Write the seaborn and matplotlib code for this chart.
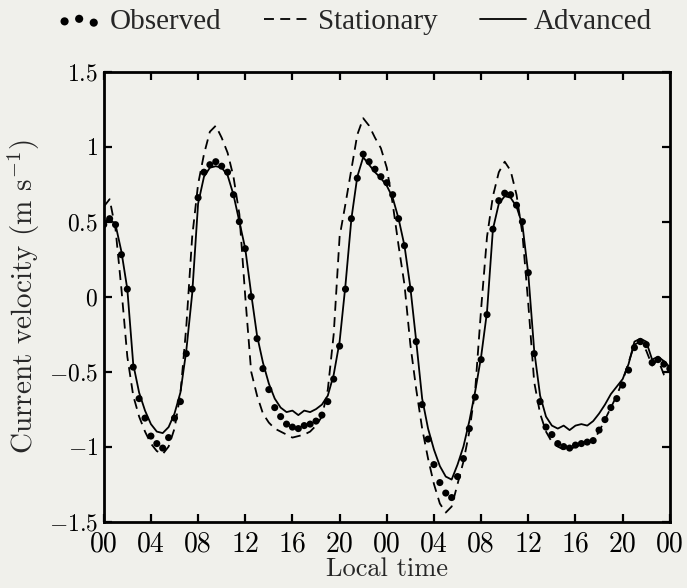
import matplotlib
matplotlib.use("Agg")
import matplotlib.pyplot as plt
import seaborn as sns
import pandas as pd

# ---------------- data ----------------
hours = [0.0, 0.5, 1.0, 1.5, 2.0, 2.5, 3.0, 3.5, 4.0, 4.5, 5.0, 5.5, 6.0, 6.5, 7.0, 7.5,
         8.0, 8.5, 9.0, 9.5, 10.0, 10.5, 11.0, 11.5, 12.0, 12.5, 13.0, 13.5, 14.0, 14.5,
         15.0, 15.5, 16.0, 16.5, 17.0, 17.5, 18.0, 18.5, 19.0, 19.5, 20.0, 20.5, 21.0,
         21.5, 22.0, 22.5, 23.0, 23.5, 24.0, 24.5, 25.0, 25.5, 26.0, 26.5, 27.0, 27.5,
         28.0, 28.5, 29.0, 29.5, 30.0, 30.5, 31.0, 31.5, 32.0, 32.5, 33.0, 33.5, 34.0,
         34.5, 35.0, 35.5, 36.0, 36.5, 37.0, 37.5, 38.0, 38.5, 39.0, 39.5, 40.0, 40.5,
         41.0, 41.5, 42.0, 42.5, 43.0, 43.5, 44.0, 44.5, 45.0, 45.5, 46.0, 46.5, 47.0,
         47.5, 48.0]

observed = [0.48, 0.52, 0.48, 0.28, 0.05, -0.47, -0.68, -0.81, -0.93, -0.98, -1.01, -0.94,
            -0.81, -0.70, -0.38, 0.05, 0.66, 0.83, 0.88, 0.90, 0.87, 0.83, 0.68, 0.50,
            0.32, 0.00, -0.28, -0.48, -0.62, -0.74, -0.80, -0.85, -0.87, -0.88, -0.86,
            -0.85, -0.83, -0.79, -0.70, -0.55, -0.33, 0.05, 0.52, 0.79, 0.95, 0.90, 0.85,
            0.80, 0.76, 0.68, 0.52, 0.34, 0.05, -0.30, -0.72, -0.95, -1.12, -1.24, -1.31,
            -1.34, -1.20, -1.08, -0.88, -0.67, -0.42, -0.12, 0.45, 0.64, 0.69, 0.68, 0.61,
            0.50, 0.16, -0.38, -0.70, -0.87, -0.92, -0.98, -1.00, -1.01, -0.99, -0.98,
            -0.97, -0.96, -0.89, -0.82, -0.74, -0.68, -0.59, -0.49, -0.34, -0.30, -0.32,
            -0.44, -0.42, -0.45, -0.48]

advanced = [0.50, 0.52, 0.48, 0.30, 0.05, -0.45, -0.64, -0.76, -0.85, -0.90, -0.91, -0.87,
            -0.78, -0.64, -0.36, 0.02, 0.62, 0.80, 0.86, 0.87, 0.86, 0.81, 0.68, 0.50,
            0.32, 0.02, -0.26, -0.44, -0.58, -0.68, -0.74, -0.77, -0.76, -0.79, -0.76,
            -0.77, -0.75, -0.72, -0.66, -0.52, -0.30, 0.08, 0.52, 0.80, 0.93, 0.88, 0.83,
            0.79, 0.74, 0.66, 0.52, 0.34, 0.06, -0.30, -0.68, -0.88, -1.02, -1.13, -1.20,
            -1.22, -1.12, -1.00, -0.83, -0.63, -0.40, -0.10, 0.45, 0.62, 0.67, 0.66, 0.60,
            0.48, 0.15, -0.36, -0.66, -0.80, -0.86, -0.88, -0.86, -0.89, -0.86, -0.85,
            -0.86, -0.83, -0.78, -0.72, -0.65, -0.60, -0.55, -0.45, -0.30, -0.28, -0.30,
            -0.42, -0.40, -0.43, -0.47]

stationary = [0.60, 0.65, 0.45, 0.05, -0.40, -0.66, -0.80, -0.90, -0.98, -1.03, -1.05, -1.00,
              -0.88, -0.65, -0.20, 0.40, 0.75, 0.95, 1.10, 1.14, 1.06, 0.96, 0.80, 0.55,
              0.00, -0.50, -0.66, -0.78, -0.84, -0.88, -0.90, -0.92, -0.94, -0.93, -0.92,
              -0.90, -0.86, -0.80, -0.62, -0.25, 0.40, 0.62, 0.85, 1.08, 1.19, 1.14, 1.06,
              0.99, 0.86, 0.62, 0.34, 0.08, -0.32, -0.62, -0.88, -1.08, -1.25, -1.38, -1.44,
              -1.40, -1.25, -1.10, -0.90, -0.62, -0.08, 0.40, 0.67, 0.83, 0.90, 0.84, 0.68,
              0.42, -0.05, -0.57, -0.78, -0.90, -0.97, -1.00, -1.02, -1.02, -1.00, -0.99,
              -0.98, -0.96, -0.90, -0.82, -0.74, -0.66, -0.56, -0.44, -0.32, -0.30, -0.36,
              -0.46, -0.42, -0.52, -0.55]

x_ticks = [0, 4, 8, 12, 16, 20, 24, 28, 32, 36, 40, 44, 48]
x_tick_labels = ["00", "04", "08", "12", "16", "20", "00", "04", "08", "12", "16", "20", "00"]
y_ticks = [-1.5, -1.0, -0.5, 0.0, 0.5, 1.0, 1.5]
y_tick_labels = [r"$-1.5$", r"$-1$", r"$-0.5$", r"$0$", r"$0.5$", r"$1$", r"$1.5$"]
series_names = ["Observed", "Stationary", "Advanced"]

df = pd.DataFrame({"t": hours, "obs": observed, "adv": advanced, "sta": stationary})

# ---------------- style ----------------
sns.set_theme(style="ticks")
bg = "#f0f0eb"
plt.rcParams["font.family"] = ["cmr10", "DejaVu Serif"]
plt.rcParams["mathtext.fontset"] = "cm"
plt.rcParams["axes.formatter.use_mathtext"] = True

fig = plt.figure(figsize=(6.87, 5.88), dpi=100, facecolor=bg)
ax = fig.add_axes([0.151, 0.113, 0.824, 0.765])
ax.set_facecolor(bg)

sns.lineplot(data=df, x="t", y="sta", ax=ax, color="black", lw=1.3,
             linestyle=(0, (5.5, 3.5)), label=series_names[1], legend=False)
sns.lineplot(data=df, x="t", y="adv", ax=ax, color="black", lw=1.3,
             label=series_names[2], legend=False)
sns.scatterplot(data=df, x="t", y="obs", ax=ax, color="black", s=26,
                edgecolor="none", label=series_names[0], legend=False, zorder=3)

ax.set_xlim(0, 48)
ax.set_ylim(-1.5, 1.5)
ax.set_xticks(x_ticks)
ax.set_xticklabels(x_tick_labels)
ax.set_yticks(y_ticks)
ax.set_yticklabels(y_tick_labels)
ax.tick_params(direction="in", length=6, width=1.6, top=True, right=True, colors="black")
ax.tick_params(axis="x", labelsize=20, pad=7)
ax.tick_params(axis="y", labelsize=17, pad=4)
for sp in ax.spines.values():
    sp.set_linewidth(2.0)
    sp.set_color("black")
    sp.set_visible(True)

ax.set_xlabel("Local time", fontsize=19, labelpad=0)
ax.set_ylabel(r"Current velocity (m s$^{-1}$)", fontsize=21, labelpad=5)

handles, labels = ax.get_legend_handles_labels()
order = [labels.index(n) for n in series_names]
fig.legend([handles[i] for i in order], [labels[i] for i in order],
           loc="upper center", bbox_to_anchor=(0.515, 1.03), ncol=3,
           frameon=False, scatterpoints=3, markerscale=1.15, handlelength=1.6,
           handletextpad=0.25, columnspacing=1.45,
           prop={"family": "Liberation Serif", "size": 21})

fig.savefig("out.png", dpi=100, facecolor=bg)
